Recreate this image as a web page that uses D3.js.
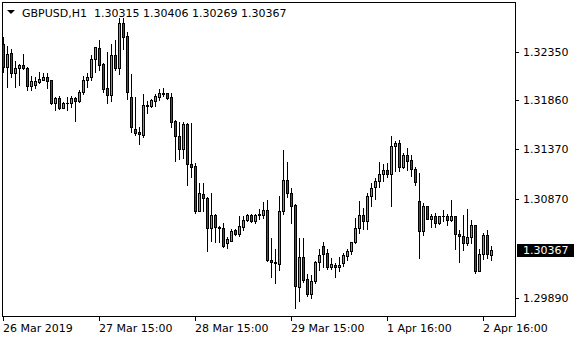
<!DOCTYPE html>
<html><head><meta charset="utf-8">
<script src="https://cdn.jsdelivr.net/npm/d3@7"></script>
<style>
html,body{margin:0;padding:0;background:#fff;}
svg{display:block;font-family:"DejaVu Sans",sans-serif;font-size:11px;}
</style></head>
<body>
<svg id="chart" width="580" height="340"></svg>
<script>
// ---- data (GBPUSD H1) ----
const symbol = "GBPUSD,H1";
const open  = [1.32420,1.32190,1.32330,1.32130,1.32180,1.32210,1.32180,1.32000,1.32010,1.32040,1.32060,1.32090,1.32060,1.31830,1.31880,1.31780,1.31830,1.31830,1.31880,1.31850,1.31950,1.32060,1.32090,1.32270,1.32380,1.32220,1.31980,1.31910,1.32310,1.32180,1.32630,1.32500,1.31890,1.31570,1.31550,1.31510,1.31800,1.31800,1.31850,1.31890,1.31920,1.31930,1.31890,1.31650,1.31500,1.31370,1.31620,1.31220,1.31200,1.30750,1.30930,1.30880,1.30580,1.30720,1.30590,1.30580,1.30430,1.30450,1.30560,1.30530,1.30590,1.30660,1.30720,1.30650,1.30720,1.30720,1.30760,1.30260,1.30240,1.30220,1.30750,1.31060,1.30940,1.30810,1.29990,1.30300,1.30070,1.29930,1.30050,1.30240,1.30400,1.30340,1.30190,1.30210,1.30190,1.30230,1.30310,1.30350,1.30440,1.30580,1.30720,1.30650,1.30900,1.30990,1.31050,1.31130,1.31160,1.31130,1.31400,1.31430,1.31190,1.31310,1.31260,1.31170,1.30850,1.30550,1.30800,1.30670,1.30710,1.30630,1.30700,1.30710,1.30660,1.30700,1.30530,1.30510,1.30430,1.30490,1.30610,1.30150,1.30330,1.30520,1.30315];
const high  = [1.32490,1.32400,1.32370,1.32250,1.32220,1.32320,1.32190,1.32100,1.32090,1.32150,1.32130,1.32130,1.32060,1.31890,1.31900,1.31840,1.31890,1.31900,1.31890,1.31960,1.32100,1.32130,1.32310,1.32390,1.32460,1.32230,1.32340,1.32420,1.32460,1.32680,1.32680,1.32540,1.32120,1.31890,1.31590,1.31920,1.31850,1.31870,1.31920,1.31970,1.31980,1.31940,1.31940,1.31660,1.31640,1.31640,1.31630,1.31630,1.31230,1.31030,1.31030,1.30890,1.30940,1.30730,1.30600,1.30630,1.30490,1.30570,1.30570,1.30700,1.30700,1.30730,1.30730,1.30730,1.30770,1.30840,1.30860,1.30480,1.30370,1.30900,1.31360,1.31240,1.30980,1.30820,1.30480,1.30480,1.30130,1.30120,1.30250,1.30370,1.30440,1.30370,1.30280,1.30230,1.30290,1.30340,1.30370,1.30440,1.30680,1.30850,1.30780,1.30940,1.31030,1.31080,1.31240,1.31220,1.31230,1.31500,1.31450,1.31460,1.31340,1.31380,1.31310,1.31190,1.31140,1.30830,1.30800,1.30730,1.30740,1.30710,1.30760,1.30730,1.30860,1.30710,1.30560,1.30720,1.30770,1.30660,1.30610,1.30370,1.30540,1.30560,1.30406];
const low   = [1.32150,1.31990,1.32090,1.31990,1.32010,1.32170,1.31960,1.31960,1.31980,1.32030,1.32060,1.31980,1.31820,1.31760,1.31770,1.31780,1.31760,1.31790,1.31650,1.31840,1.31920,1.31990,1.32060,1.32150,1.32160,1.31950,1.31830,1.31850,1.32160,1.32120,1.32370,1.31870,1.31550,1.31510,1.31420,1.31490,1.31740,1.31790,1.31800,1.31860,1.31900,1.31870,1.31590,1.31250,1.31270,1.31280,1.31010,1.31090,1.30740,1.30750,1.30750,1.30350,1.30450,1.30440,1.30440,1.30390,1.30380,1.30450,1.30520,1.30510,1.30560,1.30650,1.30640,1.30630,1.30670,1.30680,1.30250,1.30100,1.30030,1.30160,1.30730,1.30890,1.30630,1.29780,1.29850,1.30040,1.29910,1.29890,1.30030,1.30160,1.30190,1.30170,1.30170,1.30090,1.30150,1.30200,1.30260,1.30330,1.30430,1.30540,1.30570,1.30570,1.30800,1.30870,1.30990,1.31050,1.31090,1.30800,1.31150,1.31150,1.31180,1.31160,1.31100,1.31010,1.30280,1.30520,1.30670,1.30590,1.30590,1.30620,1.30650,1.30610,1.30650,1.30370,1.30240,1.30360,1.30410,1.30430,1.30140,1.30150,1.30270,1.30280,1.30269];
const close = [1.32190,1.32320,1.32130,1.32180,1.32210,1.32180,1.32000,1.32050,1.32050,1.32070,1.32090,1.32050,1.31830,1.31880,1.31780,1.31830,1.31830,1.31880,1.31850,1.31950,1.32060,1.32090,1.32270,1.32390,1.32210,1.31970,1.31910,1.32310,1.32180,1.32630,1.32490,1.31950,1.31590,1.31540,1.31520,1.31810,1.31810,1.31860,1.31900,1.31940,1.31940,1.31880,1.31640,1.31500,1.31370,1.31620,1.31220,1.31190,1.30750,1.30940,1.30880,1.30580,1.30720,1.30590,1.30580,1.30400,1.30470,1.30550,1.30530,1.30600,1.30660,1.30720,1.30650,1.30720,1.30730,1.30760,1.30260,1.30240,1.30230,1.30750,1.31060,1.30940,1.30800,1.30000,1.30300,1.30060,1.29930,1.30050,1.30240,1.30320,1.30330,1.30190,1.30220,1.30190,1.30210,1.30320,1.30350,1.30440,1.30580,1.30720,1.30650,1.30900,1.30980,1.31050,1.31130,1.31160,1.31130,1.31400,1.31430,1.31190,1.31310,1.31250,1.31170,1.31040,1.30550,1.30800,1.30670,1.30710,1.30630,1.30700,1.30710,1.30660,1.30700,1.30530,1.30500,1.30430,1.30490,1.30610,1.30150,1.30330,1.30520,1.30330,1.30367];
const xTickIndex  = [0, 24, 48, 72, 96, 120];
const xTickLabels = ["26 Mar 2019","27 Mar 15:00","28 Mar 15:00","29 Mar 15:00","1 Apr 16:00","2 Apr 16:00"];
const yTickValues = [1.32350, 1.31860, 1.31370, 1.30870, 1.29890];

// ---- layout ----
const svg = d3.select("#chart");
const L = 2, R = 515, T = 2, B = 316;
const x = d3.scaleLinear().domain([0, open.length - 1]).range([3, 3 + 4 * (open.length - 1)]);
const y = d3.scaleLinear().domain([1.29890, 1.32350]).range([297.5, 51.5]);
const bull = "#32cd32", bear = "#ff0000";

svg.append("rect").attr("width",580).attr("height",340).attr("fill","#fff");

const clipId = "plotclip";
svg.append("clipPath").attr("id", clipId).append("rect")
  .attr("x", L).attr("y", T).attr("width", R - L).attr("height", B - T);

const g = svg.append("g").attr("clip-path", `url(#${clipId})`);
const idx = d3.range(open.length);

idx.forEach(i => {
  const c = Math.round(x(i));
  const yh = Math.round(y(high[i])), yl = Math.round(y(low[i]));
  const yo = Math.round(y(open[i])), yc = Math.round(y(close[i]));
  const top = Math.min(yo, yc), bot = Math.max(yo, yc);
  g.append("rect").attr("x", c).attr("y", yh).attr("width", 1).attr("height", Math.max(1, yl - yh + 1)).attr("fill", "#000");
  g.append("rect").attr("x", c - 1).attr("y", top).attr("width", 3).attr("height", bot - top + 1).attr("fill", "#000");
  if (bot - top >= 2) {
    g.append("rect").attr("x", c).attr("y", top + 1).attr("width", 1).attr("height", bot - top - 1)
      .attr("fill", close[i] >= open[i] ? bull : bear);
  }
});

// frame
svg.append("rect").attr("x", L + 0.5).attr("y", T + 0.5).attr("width", R - L).attr("height", B - T)
  .attr("fill", "none").attr("stroke", "#000").attr("stroke-width", 1);

// y axis ticks + labels
const f5 = d3.format(".5f");
yTickValues.forEach(v => {
  const yy = Math.round(y(v));
  svg.append("rect").attr("x", R + 1).attr("y", yy).attr("width", 3).attr("height", 1).attr("fill", "#000");
  svg.append("text").attr("x", 523).attr("y", yy).attr("dy", "0.36em").attr("fill", "#000").text(f5(v));
});

// x axis ticks + labels
xTickIndex.forEach((ti, k) => {
  const xx = Math.round(x(ti));
  svg.append("rect").attr("x", xx).attr("y", B + 1).attr("width", 1).attr("height", 4).attr("fill", "#000");
  svg.append("text").attr("x", xx).attr("y", 332).attr("fill", "#000").text(xTickLabels[k]);
});

// current price label
const last = close.length - 1;
const py = Math.round(y(close[last]));
svg.append("rect").attr("x", 517).attr("y", py - 6).attr("width", 57).attr("height", 13).attr("fill", "#000");
svg.append("text").attr("x", 523).attr("y", py).attr("dy", "0.36em").attr("fill", "#fff").text(f5(close[last]));

// title
svg.append("path").attr("d", "M7,10 L15,10 L11,14 Z").attr("fill", "#000");
svg.append("text").attr("x", 22).attr("y", 16.5).attr("fill", "#000").text(symbol);
svg.append("text").attr("x", 94).attr("y", 16.5).attr("fill", "#000")
  .text([open[last], high[last], low[last], close[last]].map(f5).join(" "));
</script>
</body></html>
